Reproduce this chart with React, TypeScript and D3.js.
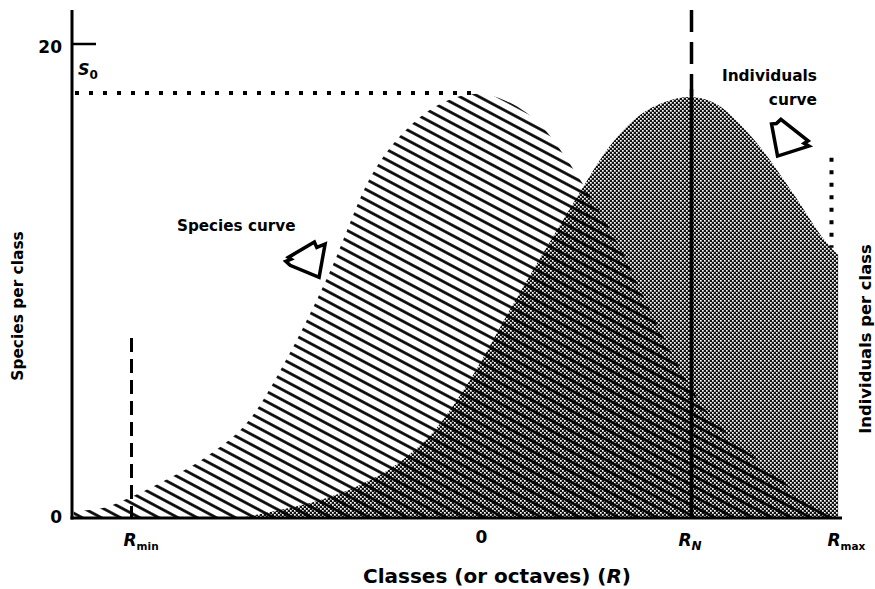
import React from "react";
import * as d3 from "d3";

// ---- data ----
const speciesClasses = [-11.65, -10.9, -10, -8.9, -7.8, -6.6, -5.5, -4.3, -3.2, -2, -1, -0.1, 0.7, 1.8, 2.5, 3.1, 4, 5.1, 6.2, 8, 9.1, 10.1, 10.2];
const speciesValues = [0.3, 0.4, 0.9, 1.7, 2.65, 4.2, 6.9, 10.5, 14.3, 16.6, 17.6, 17.9, 17.6, 16.4, 15.0, 13.6, 11.3, 7.9, 5.0, 2.3, 1.0, 0.1, 0];

const individualsClasses = [-6.9, -5.76, -4.6, -3.47, -2.33, -1.33, -0.33, 0.81, 1.81, 2.67, 3.67, 4.53, 5.24, 5.96, 6.67, 7.39, 7.96, 8.9, 9.87, 10.19];
const individualsValues = [0, 0.34, 0.76, 1.39, 2.36, 3.71, 5.82, 8.78, 11.3, 13.4, 15.7, 17.0, 17.55, 17.76, 17.5, 16.6, 15.65, 13.7, 11.6, 11.1];

const yTickValues = [0, 20];
const yTickLabels = ["0", "20"];

const markValues = [-10, 0, 6, 10];
const markMain = ["R", "0", "R", "R"];
const markSubs = ["min", "", "N", "max"];

const S0 = 17.93;
const RminLineTop = 7.6;
const RmaxDotTop = 15.2;
const RmaxDotBottom = 11.4;

const W = 875;
const H = 589;

const x = d3.scaleLinear().domain([-11.7, 10.3]).range([72, 842]);
const y = d3.scaleLinear().domain([0, 20]).range([518, 44]);

const speciesData = speciesClasses.map((c, i) => [c, speciesValues[i]] as [number, number]);
const individualsData = individualsClasses.map((c, i) => [c, individualsValues[i]] as [number, number]);

const areaGen = d3
  .area<[number, number]>()
  .x((d) => x(d[0]))
  .y0(y(0))
  .y1((d) => y(d[1]))
  .curve(d3.curveMonotoneX);

// arrow outlines (offsets around an anchor placed in data space)
const speciesArrowAnchor = [-5.04, 10.9];
const speciesArrow = [[-16.7, -2.3], [9.3, -17.7], [11.7, -12.3], [20, -15.7], [14, 17.7], [-15, 5.7], [-19.3, 1.7], [-14, -0.5]];
const indArrowAnchor = [8.81, 16.03];
const indArrow = [[-18.3, -14], [-13.5, -14.5], [-9, -18.7], [18.3, 2.7], [14.3, 5.3], [19, 8], [-12.3, 18]];

const FONT = "'DejaVu Sans', Verdana, sans-serif";
const markDx = [-8, 0, -13, -4];

export default function App() {
  const rn = x(markValues[2]);
  const indPeak = d3.max(individualsValues) as number;
  const toPts = (anchor: number[], pts: number[][]) =>
    pts.map((p) => `${x(anchor[0]) + p[0]},${y(anchor[1]) + p[1]}`).join(" ");
  return (
    <svg
      width={W}
      height={H}
      style={{ position: "absolute", left: 0, top: 0, background: "#fff" }}
      fontFamily={FONT}
      fontWeight="700"
    >
      <defs>
        <pattern id="hatch" width="9" height="9" patternUnits="userSpaceOnUse" patternTransform="rotate(28)">
          <line x1="0" y1="4.5" x2="9" y2="4.5" stroke="#000" strokeWidth="2.7" />
        </pattern>
        <pattern id="cross" width="4" height="4" patternUnits="userSpaceOnUse">
          <rect width="4" height="4" fill="#111" />
          <rect x="0" y="0" width="1.7" height="1.7" fill="#fff" />
          <rect x="2" y="2" width="1.7" height="1.7" fill="#fff" />
        </pattern>
        <clipPath id="above">
          <rect x="0" y="0" width={W} height={y(0)} />
        </clipPath>
      </defs>

      <g clipPath="url(#above)">
        <path d={areaGen(individualsData) || ""} fill="url(#cross)" />
        <path d={areaGen(speciesData) || ""} fill="url(#hatch)" />
      </g>

      {/* S0 dotted line */}
      <line x1={x.range()[0] + 3} x2={x(-0.2)} y1={y(S0)} y2={y(S0)} stroke="#000" strokeWidth="4" strokeDasharray="4 10" />
      {/* Rmax dotted line */}
      <line x1={x(markValues[3])} x2={x(markValues[3])} y1={y(RmaxDotTop)} y2={y(RmaxDotBottom)} stroke="#000" strokeWidth="4" strokeDasharray="4 8.5" />
      {/* Rmin dashed */}
      <line x1={x(markValues[0])} x2={x(markValues[0])} y1={y(RminLineTop)} y2={y(0)} stroke="#000" strokeWidth="3" strokeDasharray="14 7" />
      {/* RN dashed + solid */}
      <line x1={rn} x2={rn} y1={10} y2={y(indPeak)} stroke="#000" strokeWidth="3.5" strokeDasharray="22 10" />
      <line x1={rn} x2={rn} y1={y(indPeak) - 8} y2={y(0)} stroke="#000" strokeWidth="3.5" />

      {/* axes */}
      <line x1={x.range()[0]} x2={x.range()[0]} y1={10} y2={y(0) + 1.5} stroke="#000" strokeWidth="3" />
      <line x1={x.range()[0] - 1.5} x2={x.range()[1]} y1={y(0)} y2={y(0)} stroke="#000" strokeWidth="3" />
      <line x1={x.range()[0]} x2={x.range()[0] + 24} y1={y(20)} y2={y(20)} stroke="#000" strokeWidth="2.5" />

      {yTickValues.map((v, i) => (
        <text key={v} x={62} y={y(v) + (v === 0 ? 5 : 9)} textAnchor="end" fontSize="17">
          {yTickLabels[i]}
        </text>
      ))}

      <text x={78} y={75} fontSize="16" fontStyle="italic">
        S<tspan fontSize="12" fontStyle="normal" dy="4">0</tspan>
      </text>

      {markValues.map((v, i) =>
        markSubs[i] ? (
          <text key={i} x={x(v) + markDx[i]} y={546} fontSize="17">
            <tspan fontStyle="italic">{markMain[i]}</tspan>
            <tspan fontSize={markSubs[i] === "N" ? 12 : 10.5} fontStyle={markSubs[i] === "N" ? "italic" : "normal"} dy="4">
              {markSubs[i]}
            </tspan>
          </text>
        ) : (
          <text key={i} x={x(v)} y={543} fontSize="17" textAnchor="middle">
            {markMain[i]}
          </text>
        )
      )}

      <text x={497} y={583} textAnchor="middle" fontSize="20">
        Classes (or octaves) (<tspan fontStyle="italic">R</tspan>)
      </text>
      <text transform="translate(23,306) rotate(-90)" textAnchor="middle" fontSize="15.4">
        Species per class
      </text>
      <text transform="translate(871,339) rotate(-90)" textAnchor="middle" fontSize="16.4">
        Individuals per class
      </text>

      <text x={177} y={231} fontSize="15.2">Species curve</text>
      <text x={817} y={81} textAnchor="end" fontSize="15.4">Individuals</text>
      <text x={817} y={105} textAnchor="end" fontSize="15.4">curve</text>

      <polygon points={toPts(speciesArrowAnchor, speciesArrow)} fill="#fff" stroke="#000" strokeWidth="3.5" strokeLinejoin="miter" />
      <polygon points={toPts(indArrowAnchor, indArrow)} fill="#fff" stroke="#000" strokeWidth="3.5" strokeLinejoin="miter" />
    </svg>
  );
}
